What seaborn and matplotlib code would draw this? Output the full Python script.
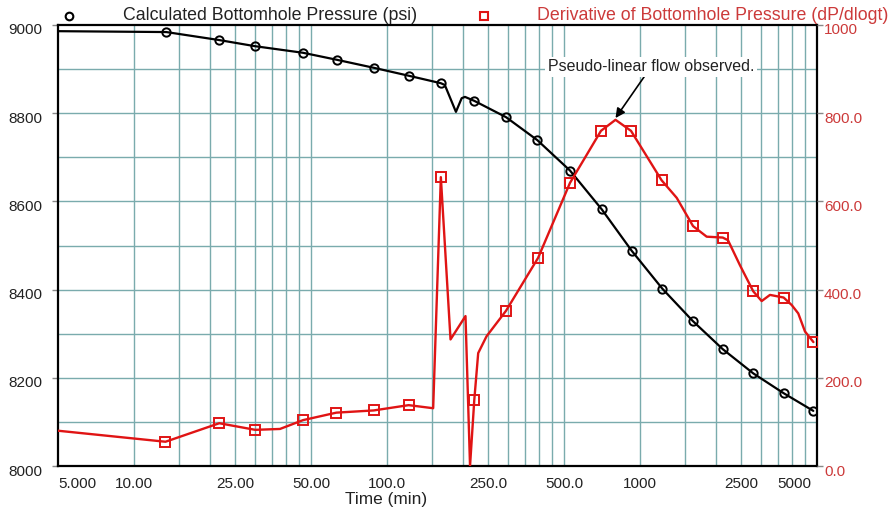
import matplotlib
matplotlib.use("Agg")
import numpy as np
import pandas as pd
import matplotlib.pyplot as plt
import seaborn as sns
from matplotlib.lines import Line2D
from matplotlib.transforms import ScaledTranslation

# Calculated bottomhole pressure (psi) vs. time (min)
bhp_time = [5.0, 13.4, 21.6, 30.0, 46.5, 63.4, 88.5, 121.6, 163, 169, 187, 197, 203,
            221, 295, 392, 528, 705, 926, 1224, 1613, 2120, 2800, 3693, 4835]
bhp_psi = [8986, 8984, 8966, 8952, 8937, 8921, 8903, 8885, 8868, 8864, 8803, 8834, 8837,
           8828, 8791, 8739, 8670, 8582, 8488, 8402, 8329, 8265, 8210, 8165, 8125]
bhp_marks = [1, 2, 3, 4, 5, 6, 7, 8, 13, 14, 15, 16, 17, 18, 19, 20, 21, 22, 23, 24]

# Pressure derivative (dP/dlogt) vs. time (min)
deriv_time = [5.0, 13.3, 21.7, 30.1, 37.7, 46.5, 63.0, 88.5, 121.6, 152, 163, 178, 204,
              212.6, 221, 229, 247, 295, 395, 528, 700, 799, 920, 1215, 1395, 1618, 1832,
              2120, 2224, 2481, 2800, 3022, 3259, 3690, 3972, 4216, 4482, 4840]
deriv_val = [80, 55, 97, 82, 84, 104, 121, 126, 138, 131, 655, 287, 340,
             0, 150, 256, 294, 352, 472, 642, 760, 785, 760, 648, 608, 544, 520,
             518, 512, 455, 396, 374, 388, 382, 365, 346, 305, 281]
deriv_marks = [1, 2, 3, 5, 6, 7, 8, 10, 14, 17, 18, 19, 20, 22, 23, 25, 27, 30, 33, 37]

# Axis ticks and grid positions
time_ticks = [5, 10, 25, 50, 100, 250, 500, 1000, 2500, 5000]
time_labels = ["5.000", "10.00", "25.00", "50.00", "100.0", "250.0", "500.0", "1000", "2500", "5000"]
time_grid = [10, 15, 20, 25, 30, 35, 40, 45, 50, 100, 150, 200, 250, 300, 350, 400, 450, 500,
             1000, 1500, 2000, 2500, 3000, 3500, 4000, 4500]
psi_ticks = [8000, 8200, 8400, 8600, 8800, 9000]
psi_grid = [8100, 8200, 8300, 8400, 8500, 8600, 8700, 8800, 8900]
deriv_ticks = [0, 200, 400, 600, 800, 1000]
deriv_labels = ["0.0", "200.0", "400.0", "600.0", "800.0", "1000"]

sns.set_theme(style="white")
plt.rcParams["font.family"] = ["Liberation Sans", "DejaVu Sans"]

RED = "#e01414"
RED_TXT = "#cc3a3a"
GRID = "#7aabad"

W, H = 894, 516
fig = plt.figure(figsize=(W / 100, H / 100), dpi=100)
ax = fig.add_axes([58 / W, 1 - 466 / H, (817 - 58) / W, (466 - 25) / H])
ax2 = ax.twinx()

bhp = pd.DataFrame({"time": bhp_time, "psi": bhp_psi})
der = pd.DataFrame({"time": deriv_time, "deriv": deriv_val})

ax.set_xscale("log")
ax.set_xlim(5, 5000)
ax.set_ylim(8000, 9000)
ax2.set_ylim(0, 1000)

for t in time_grid:
    ax.axvline(t, color=GRID, lw=1.0, zorder=0)
for p in psi_grid:
    ax.axhline(p, color=GRID, lw=1.0, zorder=0)

sns.lineplot(data=bhp, x="time", y="psi", ax=ax, color="black", lw=1.6,
             estimator=None, sort=False, marker="o", markevery=bhp_marks,
             ms=6, mfc="none", mec="black", mew=1.4, zorder=3)
sns.lineplot(data=der, x="time", y="deriv", ax=ax2, color=RED, lw=1.7,
             estimator=None, sort=False, marker="s", markevery=deriv_marks,
             ms=6.5, mfc="none", mec=RED, mew=1.4, zorder=3)

ax.set_xticks(time_ticks)
ax.set_xticklabels(time_labels)
ax.xaxis.set_minor_locator(matplotlib.ticker.NullLocator())
ax.set_yticks(psi_ticks)
ax.set_yticklabels([str(v) for v in psi_ticks])
ax2.set_yticks(deriv_ticks)
ax2.set_yticklabels(deriv_labels)

ax.tick_params(axis="x", length=4, width=1, color="#888888", labelsize=11,
               pad=4, labelcolor="#222222")
ax.tick_params(axis="y", length=4, width=1, color="#888888", labelsize=11,
               pad=7, labelcolor="#222222", left=True)
ax2.tick_params(axis="y", length=4, width=1, color="#888888", labelsize=11,
                pad=1, labelcolor=RED_TXT, right=True)

# keep end labels inside the axis span
xlabels = ax.get_xticklabels()
xlabels[0].set_horizontalalignment("left")
xlabels[-1].set_horizontalalignment("right")
xlabels[-1].set_transform(xlabels[-1].get_transform()
                          + ScaledTranslation(-6 / 100, 0, fig.dpi_scale_trans))
down = ScaledTranslation(0, -4 / 100, fig.dpi_scale_trans)
for lab in ax.get_yticklabels() + ax2.get_yticklabels():
    lab.set_transform(lab.get_transform() + down)

ax.set_xlabel("Time (min)", fontsize=12.4, color="#222222")
ax.xaxis.set_label_coords(0.432, -0.058)
ax.set_ylabel("")
ax2.set_ylabel("")

for s in ax.spines.values():
    s.set_visible(True)
    s.set_color("black")
    s.set_linewidth(1.6)
for s in ax2.spines.values():
    s.set_visible(False)

# annotation at the derivative peak
peak = int(np.argmax(deriv_val))
ax2.annotate("Pseudo-linear flow observed.", xy=(deriv_time[peak], deriv_val[peak] + 4),
             xytext=(1104, 905), fontsize=11.5, color="#222222", ha="center", va="center",
             bbox=dict(boxstyle="square,pad=0.15", fc="white", ec="none"),
             arrowprops=dict(arrowstyle="-|>", color="black", lw=1.2,
                             mutation_scale=14, shrinkA=0, shrinkB=0),
             zorder=5)

# series keys above the plot
fig.add_artist(Line2D([69 / W], [1 - 16 / H], transform=fig.transFigure, marker="o",
                      ms=5.5, mfc="none", mec="black", mew=1.5, ls="none"))
fig.text(123 / W, 1 - 16 / H, "Calculated Bottomhole Pressure (psi)", fontsize=12.8,
         color="#222222", ha="left", va="center")
fig.add_artist(Line2D([484 / W], [1 - 16 / H], transform=fig.transFigure, marker="s",
                      ms=5.5, mfc="none", mec=RED, mew=1.5, ls="none"))
fig.text(537 / W, 1 - 16 / H, "Derivative of Bottomhole Pressure (dP/dlogt)", fontsize=12.8,
         color=RED_TXT, ha="left", va="center")

fig.savefig("out.png", dpi=100, facecolor="white")
